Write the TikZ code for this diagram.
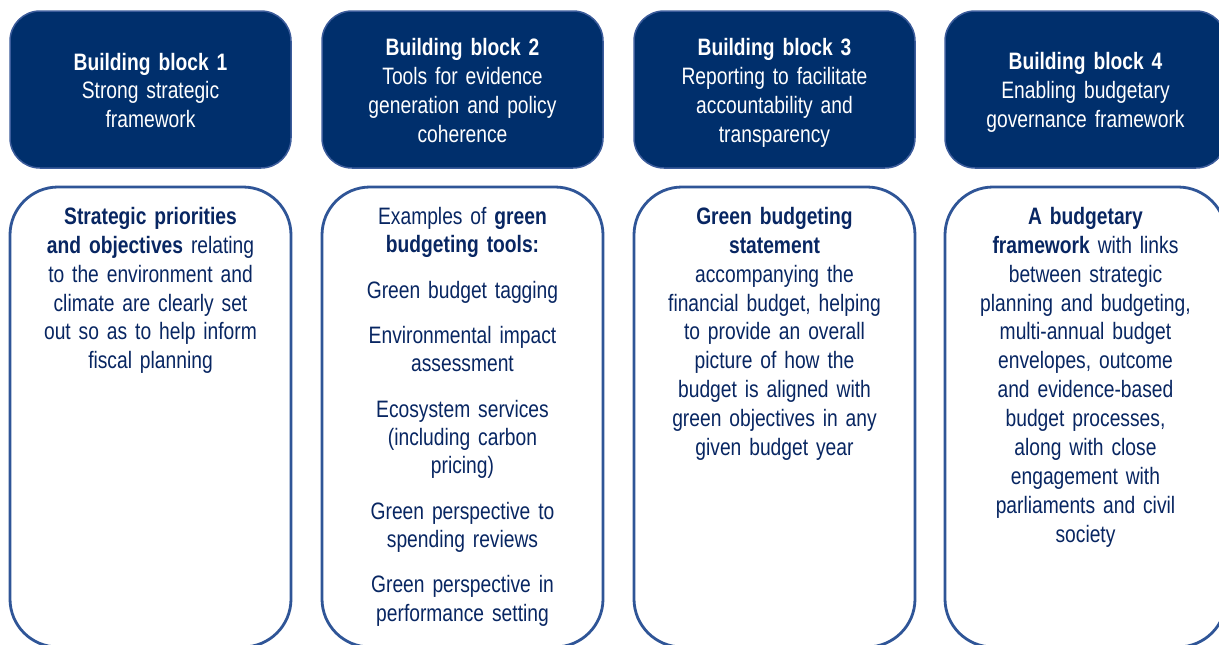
\documentclass[tikz,border=0pt]{standalone}
\usepackage{fontspec}
\setmainfont{Liberation Sans}[FakeStretch=0.81]
\definecolor{navyfill}{RGB}{0,47,108}
\definecolor{navyedge}{RGB}{60,92,155}
\definecolor{boxedge}{RGB}{47,85,151}
\definecolor{bodytext}{RGB}{8,38,98}
\begin{document}
\begin{tikzpicture}[x=1pt,y=-1pt,
  hdr/.style={draw=navyedge,line width=1.5pt,fill=navyfill,rounded corners=30pt,
    minimum width=281pt,minimum height=157pt,inner sep=0pt,outer sep=0pt},
  body/.style={draw=boxedge,line width=2.8pt,fill=white,rounded corners=48pt,
    minimum width=281pt,minimum height=460pt,inner sep=0pt,outer sep=0pt},
  txt/.style={anchor=base,text width=276pt,align=center,inner sep=0pt,
    font=\fontsize{23.75}{28.9}\selectfont},
  hdrtext/.style={txt,text=white},
  bodytxt/.style={txt,text=bodytext},
  listtxt/.style={bodytxt,font=\fontsize{23.75}{28.3}\selectfont}]
\useasboundingbox (0,0) rectangle (1219,645);
\clip (0,0) rectangle (1219,645);

% header blocks
\node[hdr] (h1) at (150.5,89.5) {};
\node[hdr] (h2) at (462.5,89.5) {};
\node[hdr] (h3) at (774.5,89.5) {};
\node[hdr] (h4) at (1085.5,89.5) {};

% description panels
\node[body] (b1) at (150.5,417) {};
\node[body] (b2) at (462.5,417) {};
\node[body] (b3) at (774.5,417) {};
\node[body] (b4) at (1085.5,417) {};

% header texts
\node[hdrtext] (ht1) at (150.5,70) {\textbf{Building block 1}\\Strong strategic\\framework};
\node[hdrtext] (ht2) at (462.5,55.3) {\textbf{Building block 2}\\Tools for evidence\\generation and policy\\coherence};
\node[hdrtext] (ht3) at (774.5,55.3) {\textbf{Building block 3}\\Reporting to facilitate\\accountability and\\transparency};
\node[hdrtext] (ht4) at (1085.5,69.5) {\textbf{Building block 4}\\Enabling budgetary\\governance framework};

% panel texts
\node[bodytxt] (bt1) at (150.5,224.3) {\textbf{Strategic priorities}\\\textbf{and objectives} relating\\to the environment and\\climate are clearly set\\out so as to help inform\\fiscal planning};
\node[listtxt] (bt2) at (462.5,224.3) {Examples of \textbf{green}\\\textbf{budgeting tools:}\\[17.1pt]Green budget tagging\\[17.1pt]Environmental impact\\assessment\\[17.1pt]Ecosystem services\\(including carbon\\pricing)\\[17.1pt]Green perspective to\\spending reviews\\[17.1pt]Green perspective in\\performance setting};
\node[bodytxt] (bt3) at (774.5,224.3) {\textbf{Green budgeting}\\\textbf{statement}\\accompanying the\\financial budget, helping\\to provide an overall\\picture of how the\\budget is aligned with\\green objectives in any\\given budget year};
\node[bodytxt] (bt4) at (1085.5,224.3) {\textbf{A budgetary}\\\textbf{framework} with links\\between strategic\\planning and budgeting,\\multi-annual budget\\envelopes, outcome\\and evidence-based\\budget processes,\\along with close\\engagement with\\parliaments and civil\\society};
\end{tikzpicture}
\end{document}
